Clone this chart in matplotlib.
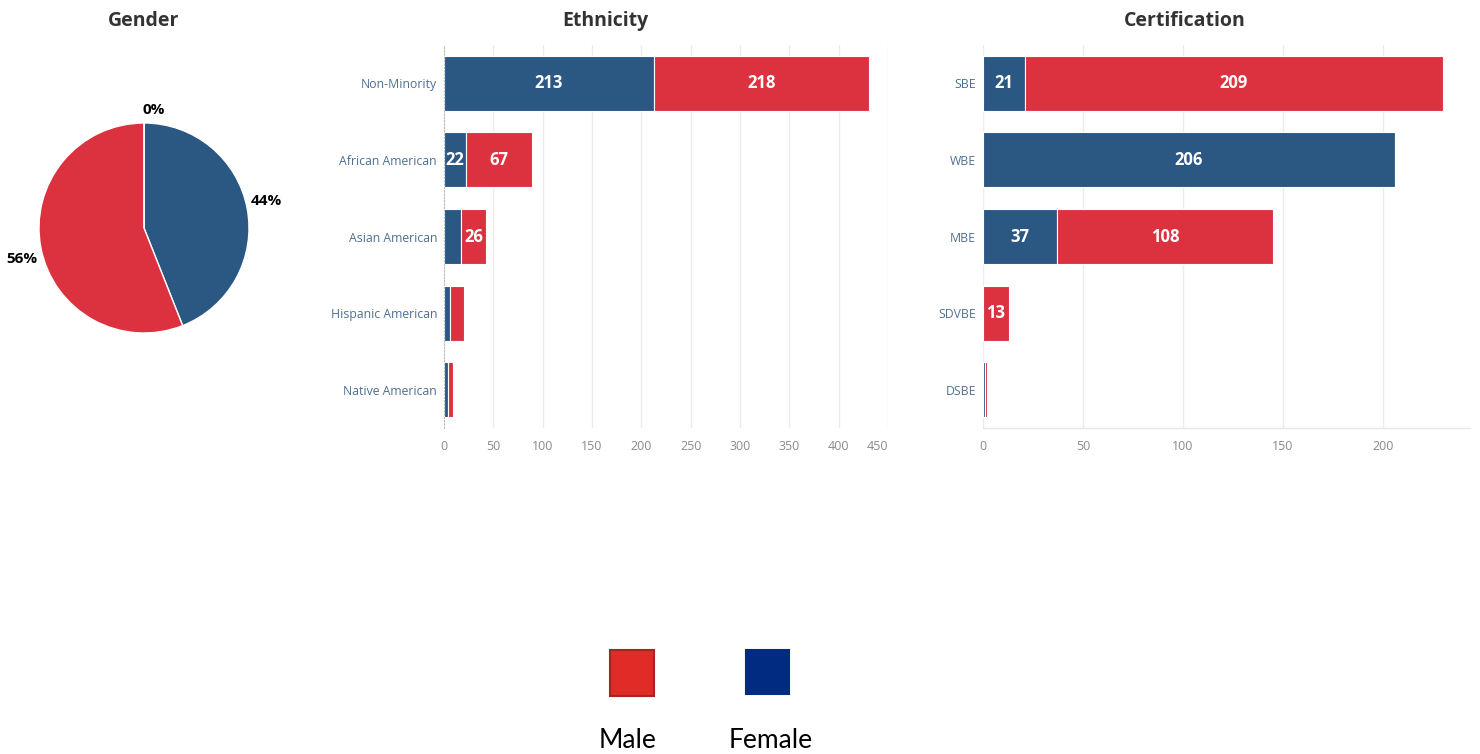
import matplotlib
matplotlib.use("Agg")
import matplotlib.pyplot as plt
from matplotlib.patches import Rectangle

plt.rcParams['font.family'] = ['Open Sans', 'DejaVu Sans']

# ---- data ----
gender_labels = ["Female", "Male", "Other"]
gender_pct = [44, 56, 0]

ethnicity = ["Non-Minority", "African American", "Asian American",
             "Hispanic American", "Native American"]
eth_female = [213, 22, 17, 6, 4]
eth_male = [218, 67, 26, 14, 5]

certification = ["SBE", "WBE", "MBE", "SDVBE", "DSBE"]
cert_female = [21, 206, 37, 0, 1]
cert_male = [209, 0, 108, 13, 1]

legend_labels = ["Male", "Female"]
legend_colors = ["#e02b27", "#002b80"]

BLUE = "#2b5783"
RED = "#dc3240"
GRID = "#ececec"
TICK_X = "#8a8a8a"
TICK_Y = "#4f6f91"
TITLE = "#333333"

fig = plt.figure(figsize=(14.8, 7.54), dpi=100)
W, H = 1480, 754


def fbox(x0, y0, x1, y1):
    return [x0 / W, 1 - y1 / H, (x1 - x0) / W, (y1 - y0) / H]


# ---- Gender pie ----
axp = fig.add_axes(fbox(39, 123, 249, 333))
wedges, _, autotexts = axp.pie(
    gender_pct, colors=[BLUE, RED, "#999999"], startangle=90, counterclock=False,
    autopct=lambda p: f"{p:.0f}%", pctdistance=1.18,
    wedgeprops=dict(edgecolor="white", linewidth=1),
    textprops=dict(fontsize=11, fontweight="bold", color="black"))
# small nudges so the outside labels sit clear of the rim
nudges = [(0.01, 0.04), (0.0, -0.07), (0.09, -0.06)]
for t, (dx, dy) in zip(autotexts, nudges):
    x, y = t.get_position()
    t.set_position((x + dx, y + dy))
axp.set_xlim(-1, 1)
axp.set_ylim(-1, 1)
axp.set_aspect("equal")
fig.text(144 / W, 1 - 21 / H, "Gender", ha="center", va="center",
         fontsize=14, fontweight="bold", color=TITLE)


def stacked(ax, cats, fem, male, xmax, ticks):
    y = list(range(len(cats)))
    b1 = ax.barh(y, fem, height=0.72, color=BLUE, edgecolor="white", linewidth=0.8)
    b2 = ax.barh(y, male, left=fem, height=0.72, color=RED, edgecolor="white", linewidth=0.8)
    ax.set_xlim(0, xmax)
    ax.set_ylim(len(cats) - 0.5, -0.5)
    ax.set_yticks(y)
    ax.set_yticklabels(cats)
    ax.set_xticks(ticks)
    ax.tick_params(axis="both", length=0)
    ax.tick_params(axis="x", colors=TICK_X, labelsize=9, pad=9)
    ax.tick_params(axis="y", colors=TICK_Y, labelsize=8.8, pad=5)
    ax.grid(axis="x", color=GRID, linewidth=1)
    ax.set_axisbelow(True)
    for s in ax.spines.values():
        s.set_visible(False)
    px_per_unit = ax.get_position().width * W / xmax
    for bars, vals in ((b1, fem), (b2, male)):
        labels = [str(v) if v * px_per_unit >= 20 else "" for v in vals]
        ax.bar_label(bars, labels=labels, label_type="center", color="white",
                     fontsize=12, fontweight="bold")
    return ax


# ---- Ethnicity ----
axe = fig.add_axes(fbox(444, 45, 888, 428))
stacked(axe, ethnicity, eth_female, eth_male, 450, range(0, 451, 50))
axe.spines["left"].set_visible(True)
axe.spines["left"].set_color("#bbbbbb")
axe.spines["left"].set_linestyle((0, (1, 2)))
axe.spines["left"].set_linewidth(0.8)
axe.get_xticklabels()[-1].set_ha("right")
fig.text(605 / W, 1 - 21 / H, "Ethnicity", ha="center", va="center",
         fontsize=14, fontweight="bold", color=TITLE)

# ---- Certification ----
axc = fig.add_axes(fbox(983, 45, 1470, 428))
stacked(axc, certification, cert_female, cert_male, 243.5, range(0, 201, 50))
axc.spines["bottom"].set_visible(True)
axc.spines["bottom"].set_color("#e6e6e6")
axc.spines["bottom"].set_linewidth(1)
fig.text(1185 / W, 1 - 21 / H, "Certification", ha="center", va="center",
         fontsize=14, fontweight="bold", color=TITLE)

# ---- legend ----
key_boxes = [(610, 650, 654, 696), (746, 650, 789, 694)]
text_x = [628, 771]
edges = ["#a82420", legend_colors[1]]
for (x0, y0, x1, y1), tx, col, ec, lab in zip(key_boxes, text_x, legend_colors, edges, legend_labels):
    fig.patches.append(Rectangle((x0 / W, 1 - y1 / H), (x1 - x0) / W, (y1 - y0) / H,
                                 transform=fig.transFigure, facecolor=col,
                                 edgecolor=ec, linewidth=1.5))
    fig.text(tx / W, 1 - 740 / H, lab,
             ha="center", va="center", fontsize=19, color="black",
             family=["Lato", "DejaVu Sans"])

fig.savefig("out.png", dpi=100, facecolor="white")
